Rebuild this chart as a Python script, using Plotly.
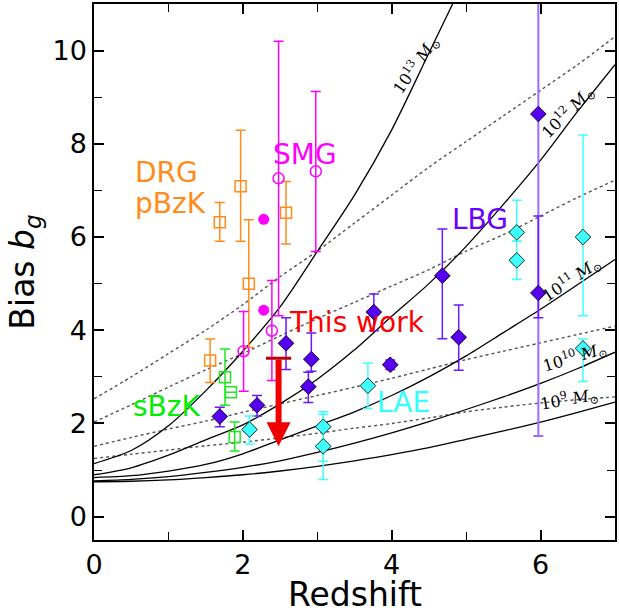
import plotly.graph_objects as go

# ---- model curves (halo bias vs redshift) ----
Z = [0, 0.5, 1, 1.5, 2, 2.5, 3, 3.5, 4, 4.5, 5, 5.5, 6, 6.5, 7]
Z13 = [0, 0.5, 1, 1.5, 2, 2.5, 3, 3.5, 4, 4.5, 5]
S13 = [1.14, 1.42, 1.95, 2.7, 3.55, 4.5, 5.69, 6.9, 8.3, 9.95, 11.6]
S12 = [0.90, 1.05, 1.32, 1.65, 1.97, 2.42, 2.95, 3.58, 4.3, 5.0, 5.8, 6.7, 7.65, 8.7, 9.7]
S11 = [0.84, 0.88, 0.98, 1.12, 1.35, 1.65, 1.95, 2.25, 2.6, 3.0, 3.45, 3.95, 4.45, 4.98, 5.52]
S10 = [0.77, 0.80, 0.86, 0.95, 1.06, 1.2, 1.38, 1.58, 1.8, 2.04, 2.3, 2.57, 2.86, 3.18, 3.53]
S9 = [0.75, 0.76, 0.79, 0.84, 0.9, 0.98, 1.08, 1.2, 1.33, 1.48, 1.66, 1.84, 2.03, 2.24, 2.46]
D1 = [2.53, 3.0, 3.5, 4.0, 4.55, 5.15, 5.7, 6.3, 6.9, 7.5, 8.05, 8.6, 9.15, 9.7, 10.3]
D2 = [2.03, 2.4, 2.78, 3.15, 3.5, 3.88, 4.25, 4.6, 4.95, 5.3, 5.7, 6.05, 6.45, 6.85, 7.22]
D3 = [1.51, 1.7, 1.88, 2.05, 2.24, 2.42, 2.6, 2.78, 2.97, 3.17, 3.37, 3.55, 3.73, 3.91, 4.09]
D4 = [1.25, 1.34, 1.43, 1.52, 1.6, 1.69, 1.79, 1.9, 2.0, 2.12, 2.25, 2.35, 2.44, 2.51, 2.57]

MASS_LABELS = ["10<sup>13</sup> <i>M</i><sub>⊙</sub>", "10<sup>12</sup> <i>M</i><sub>⊙</sub>",
               "10<sup>11</sup> <i>M</i><sub>⊙</sub>", "10<sup>10</sup> <i>M</i><sub>⊙</sub>",
               "10<sup>9</sup> <i>M</i><sub>⊙</sub>"]
MASS_LABEL_X = [4.32, 6.36, 6.42, 6.45, 6.38]
MASS_LABEL_Y = [9.69, 8.68, 5.08, 3.42, 2.52]
MASS_LABEL_ANGLE = [-55, -45, -34, -17, -10]

# ---- observations ----
DRG_z = [1.56, 1.69, 1.97, 2.08, 2.58]
DRG_b = [3.35, 6.32, 7.09, 5.0, 6.52]
DRG_up = [0.46, 0.42, 1.2, 1.37, 0.67]
DRG_lo = [0.47, 0.41, 1.18, 1.37, 0.67]

SBZK_z = [1.76, 1.84, 1.89]
SBZK_b = [2.99, 2.67, 1.71]
SBZK_up = [0.61, 0.0, 0.32]
SBZK_lo = [0.60, 0.0, 0.30]

SMG_z = [2.01, 2.39, 2.48, 2.98]
SMG_b = [3.55, 3.99, 7.26, 7.41]
SMG_up = [0.85, 1.08, 2.94, 1.71]
SMG_lo = [0.86, 1.07, 2.95, 1.72]
SMGF_z = [2.28, 2.28]
SMGF_b = [6.38, 4.43]

LBG_z = [1.69, 2.19, 2.58, 2.92, 2.88, 3.76, 3.98, 4.68, 4.9, 5.97]
LBG_b = [2.15, 2.39, 3.72, 3.38, 2.79, 4.39, 3.26, 5.17, 3.85, 4.8]
LBG_up = [0.20, 0.21, 0.55, 0.56, 0.31, 0.39, 0.10, 1.0, 0.69, 1.65]
LBG_lo = [0.22, 0.23, 0.56, 0.26, 0.34, 0.40, 0.10, 1.35, 0.71, 0.53]
LBGH_z = [5.97]
LBGH_b = [8.64]
LBGH_up = [4.5]
LBGH_lo = [6.91]

LAE_z = [2.09, 3.08, 3.08, 3.68, 5.68, 5.68, 6.57, 6.57]
LAE_b = [1.87, 1.93, 1.51, 2.81, 6.1, 5.5, 6.0, 3.61]
LAE_up = [0.29, 0.32, 0.69, 0.49, 0.69, 0.41, 2.19, 0.2]
LAE_lo = [0.31, 0.74, 0.71, 0.49, 0.19, 0.41, 1.69, 0.71]

THIS_z = [2.48]
THIS_upper = [3.4]
THIS_tip = [1.51]

ORANGE = "#ff8c1a"
GREEN = "#22e622"
MAGENTA = "#ff00ff"
PURPLE = "#5500ee"
PURPLE_ERR = "#6a1aff"
PURPLE_LIGHT = "#9c6bff"
CYAN = "#40ffff"
RED = "#ee0000"

fig = go.Figure()

for d in [D1, D2, D3, D4]:
    fig.add_trace(go.Scatter(x=Z, y=d, mode="lines",
                             line=dict(color="#555555", width=1.4, dash="dot", shape="spline", smoothing=0.8),
                             hoverinfo="skip"))
fig.add_trace(go.Scatter(x=Z13, y=S13, mode="lines",
                         line=dict(color="black", width=1.3, shape="spline", smoothing=0.8)))
for s in [S12, S11, S10, S9]:
    fig.add_trace(go.Scatter(x=Z, y=s, mode="lines",
                             line=dict(color="black", width=1.3, shape="spline", smoothing=0.8)))

# DRG / pBzK
fig.add_trace(go.Scatter(x=DRG_z, y=DRG_b, mode="markers",
                         marker=dict(symbol="square-open", size=11, color=ORANGE, line=dict(width=1.5, color=ORANGE)),
                         error_y=dict(type="data", symmetric=False, array=DRG_up, arrayminus=DRG_lo,
                                      color=ORANGE, thickness=1.5, width=5)))
# sBzK
fig.add_trace(go.Scatter(x=SBZK_z, y=SBZK_b, mode="markers",
                         marker=dict(symbol="square-open", size=11, color=GREEN, line=dict(width=1.5, color=GREEN)),
                         error_y=dict(type="data", symmetric=False, array=SBZK_up, arrayminus=SBZK_lo,
                                      color=GREEN, thickness=1.5, width=5)))
# SMG
fig.add_trace(go.Scatter(x=SMG_z, y=SMG_b, mode="markers",
                         marker=dict(symbol="circle-open", size=11, color=MAGENTA, line=dict(width=1.5, color=MAGENTA)),
                         error_y=dict(type="data", symmetric=False, array=SMG_up, arrayminus=SMG_lo,
                                      color=MAGENTA, thickness=1.5, width=5)))
fig.add_trace(go.Scatter(x=SMGF_z, y=SMGF_b, mode="markers",
                         marker=dict(symbol="circle", size=11, color=MAGENTA)))
# LBG
fig.add_trace(go.Scatter(x=LBGH_z, y=LBGH_b, mode="markers",
                         marker=dict(symbol="diamond", size=12, color=PURPLE, line=dict(width=1, color="#1a0040")),
                         error_y=dict(type="data", symmetric=False, array=LBGH_up, arrayminus=LBGH_lo,
                                      color=PURPLE_LIGHT, thickness=2, width=5)))
fig.add_trace(go.Scatter(x=LBG_z, y=LBG_b, mode="markers",
                         marker=dict(symbol="diamond", size=12, color=PURPLE, line=dict(width=1, color="#1a0040")),
                         error_y=dict(type="data", symmetric=False, array=LBG_up, arrayminus=LBG_lo,
                                      color=PURPLE_ERR, thickness=1.5, width=5)))
# LAE
fig.add_trace(go.Scatter(x=LAE_z, y=LAE_b, mode="markers",
                         marker=dict(symbol="diamond", size=12, color=CYAN, line=dict(width=1, color="#0a3030")),
                         error_y=dict(type="data", symmetric=False, array=LAE_up, arrayminus=LAE_lo,
                                      color=CYAN, thickness=1.5, width=5)))
# This work: upper limit cap
fig.add_trace(go.Scatter(x=THIS_z, y=THIS_upper, mode="markers",
                         marker=dict(symbol="line-ew", size=18, line=dict(width=3, color="#bb0000"))))

annotations = []
annotations.append(dict(x=THIS_z[0], y=THIS_tip[0], ax=THIS_z[0], ay=THIS_upper[0],
                        xref="x", yref="y", axref="x", ayref="y", text="", showarrow=True,
                        arrowhead=2, arrowsize=0.8, arrowwidth=6, arrowcolor=RED))

for t, x, y, a in zip(MASS_LABELS, MASS_LABEL_X, MASS_LABEL_Y, MASS_LABEL_ANGLE):
    annotations.append(dict(x=x, y=y, text=t, showarrow=False, textangle=a,
                            font=dict(family="DejaVu Serif", size=16, color="black")))

TXT = [("DRG", 0.52, 7.38, ORANGE, "left"), ("pBzK", 0.52, 6.71, ORANGE, "left"),
       ("SMG", 2.83, 7.77, MAGENTA, "center"), ("LBG", 5.19, 6.37, "#6a00ff", "center"),
       ("This work", 3.53, 4.17, "#ff0000", "center"), ("sBzK", 0.97, 2.37, "#00ee00", "center"),
       ("LAE", 4.16, 2.46, "#33ffff", "center")]
for t, x, y, c, anc in TXT:
    annotations.append(dict(x=x, y=y, text=t, showarrow=False, xanchor=anc,
                            font=dict(family="DejaVu Sans", size=28, color=c)))

# x-axis title placed below the tick labels
annotations.append(dict(x=0.5, y=-0.101, xref="paper", yref="paper", text="Redshift",
                        showarrow=False, xanchor="center", yanchor="middle",
                        font=dict(family="DejaVu Sans", size=33, color="black")))

axis_common = dict(showgrid=False, zeroline=False, showline=True, linecolor="black", linewidth=1.5,
                   mirror="allticks", ticks="inside", ticklen=10, tickwidth=1.5, tickcolor="black",
                   tickfont=dict(family="DejaVu Sans", size=27, color="black"))

fig.update_layout(
    width=619, height=613,
    margin=dict(l=94, r=2, t=3, b=73),
    paper_bgcolor="white", plot_bgcolor="white",
    showlegend=False,
    annotations=annotations,
    xaxis=dict(range=[0, 7], tick0=0, dtick=2,
               minor=dict(dtick=1, ticks="inside", ticklen=8, tickwidth=1.2, tickcolor="black"),
               **axis_common),
    yaxis=dict(range=[-0.5, 11], tick0=0, dtick=2,
               minor=dict(dtick=1, ticks="inside", ticklen=8, tickwidth=1.2, tickcolor="black"),
               title=dict(text="Bias <i>b<sub>g</sub></i>", font=dict(family="DejaVu Sans", size=33, color="black"), standoff=8),
               **axis_common),
)

fig.write_html("out.html")
